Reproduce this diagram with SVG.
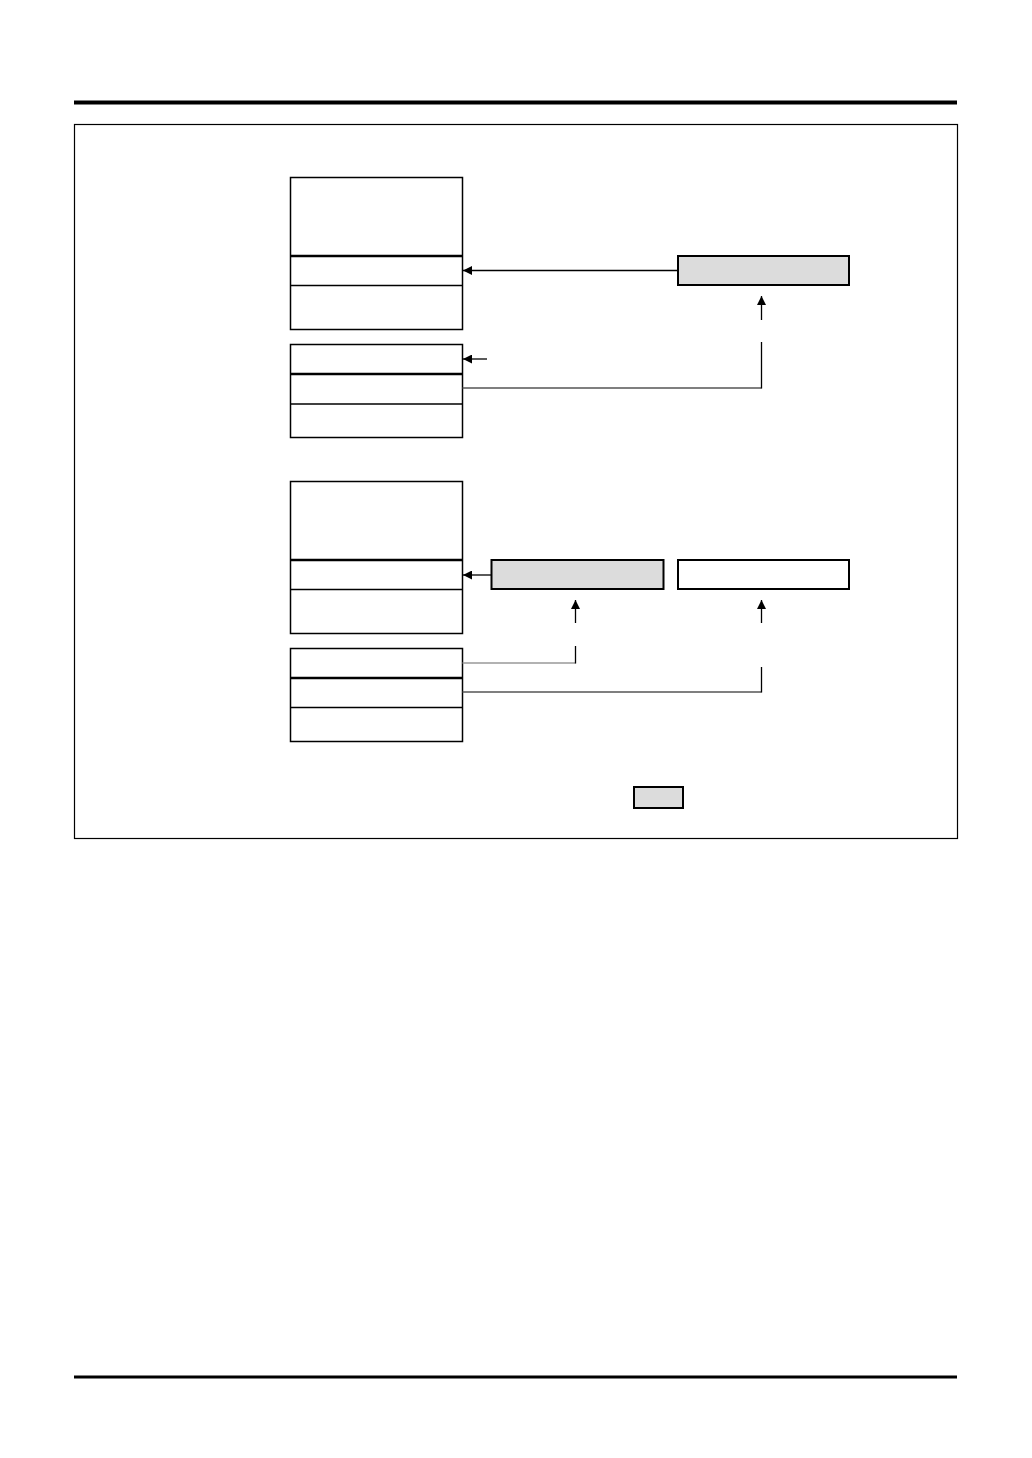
<svg xmlns="http://www.w3.org/2000/svg" width="1032" height="1458" viewBox="0 0 1032 1458">
<style>
.blk{fill:#fff;stroke:#000;stroke-width:1.5}
.thin{stroke:#000;stroke-width:1.3}
.thick{stroke:#000;stroke-width:2.5}
.reg{fill:#dcdcdc;stroke:#000;stroke-width:2}
.regw{fill:#fff;stroke:#000;stroke-width:2}
.ln{fill:none;stroke:#000;stroke-width:1.3}
.gl{fill:none;stroke:#555;stroke-width:1.3}
.lg{fill:none;stroke:#999;stroke-width:1.5}
</style>
<defs>
<marker id="ah" viewBox="0 0 10 10" refX="10" refY="5" markerWidth="9" markerHeight="9" markerUnits="userSpaceOnUse" orient="auto">
<path d="M0,0 L10,5 L0,10 z" fill="#000"/>
</marker>
</defs>
<rect width="1032" height="1458" fill="#fff"/>
<line x1="74" y1="102.5" x2="957" y2="102.5" stroke="#000" stroke-width="4"/>
<line x1="74" y1="1377" x2="957" y2="1377" stroke="#000" stroke-width="3"/>
<rect x="74.5" y="124.5" width="883" height="714" fill="none" stroke="#000" stroke-width="1.2"/>

<g id="block1">
<rect class="blk" x="290.5" y="177.5" width="172" height="152"/>
<line class="thick" x1="290.5" y1="256" x2="462.5" y2="256"/>
<line class="thin" x1="290.5" y1="285.5" x2="462.5" y2="285.5"/>
</g>
<g id="block2">
<rect class="blk" x="290.5" y="344.5" width="172" height="93"/>
<line class="thick" x1="290.5" y1="374" x2="462.5" y2="374"/>
<line class="thin" x1="290.5" y1="404" x2="462.5" y2="404"/>
</g>
<g id="reg1">
<rect class="reg" x="678" y="256" width="171" height="29"/>
</g>
<g id="block3">
<rect class="blk" x="290.5" y="481.5" width="172" height="152"/>
<line class="thick" x1="290.5" y1="560" x2="462.5" y2="560"/>
<line class="thin" x1="290.5" y1="589.5" x2="462.5" y2="589.5"/>
</g>
<g id="block4">
<rect class="blk" x="290.5" y="648.5" width="172" height="93"/>
<line class="thick" x1="290.5" y1="678" x2="462.5" y2="678"/>
<line class="thin" x1="290.5" y1="707.5" x2="462.5" y2="707.5"/>
</g>
<g id="reg2">
<rect class="reg" x="491.5" y="560" width="172" height="29"/>
</g>
<g id="reg3">
<rect class="regw" x="678" y="560" width="171" height="29"/>
</g>
<g id="legend">
<rect class="reg" x="634" y="787" width="49" height="21"/>
</g>

<g id="connectors">
<line class="ln" x1="677" y1="270.5" x2="463" y2="270.5" marker-end="url(#ah)"/>
<line class="ln" x1="761.5" y1="320" x2="761.5" y2="296" marker-end="url(#ah)"/>
<line class="ln" x1="487" y1="359" x2="463" y2="359" marker-end="url(#ah)"/>
<polyline class="gl" points="462.5,388 761.5,388"/>
<line class="ln" x1="761.5" y1="388.5" x2="761.5" y2="342"/>
<line class="ln" x1="491" y1="575" x2="463" y2="575" marker-end="url(#ah)"/>
<line class="ln" x1="575.5" y1="623" x2="575.5" y2="600" marker-end="url(#ah)"/>
<line class="ln" x1="761.5" y1="623" x2="761.5" y2="600" marker-end="url(#ah)"/>
<polyline class="lg" points="462.5,663 575.5,663"/>
<line class="ln" x1="575.5" y1="663.5" x2="575.5" y2="646"/>
<polyline class="gl" points="462.5,692 761.5,692"/>
<line class="ln" x1="761.5" y1="692.5" x2="761.5" y2="667"/>
</g>
</svg>
